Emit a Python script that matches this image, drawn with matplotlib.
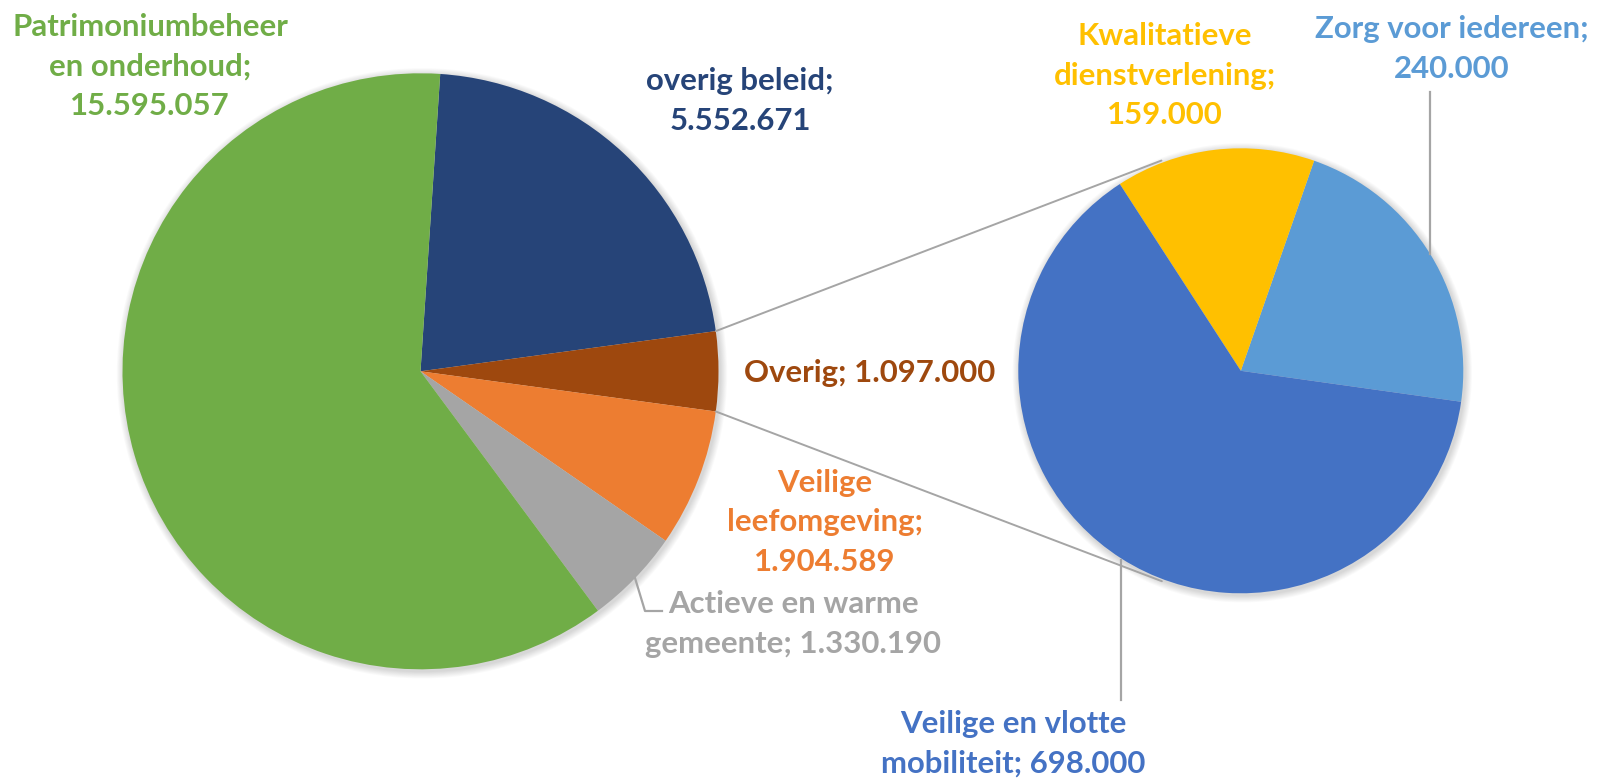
import matplotlib
matplotlib.use("Agg")
import matplotlib.pyplot as plt
import numpy as np
from matplotlib.patches import Circle

# ---------------- data ----------------
main_labels = ["overig beleid", "Overig", "Veilige leefomgeving",
               "Actieve en warme gemeente", "Patrimoniumbeheer en onderhoud"]
main_values = [5552671, 1097000, 1904589, 1330190, 15595057]
main_colors = ["#264478", "#9E480E", "#ED7D31", "#A5A5A5", "#70AD47"]
main_breaks = [[2], [], [1, 2], [3], [1, 3]]   # word index after which a line break is placed

sub_labels = ["Zorg voor iedereen", "Kwalitatieve dienstverlening",
              "Veilige en vlotte mobiliteit"]
sub_values = [240000, 159000, 698000]
sub_colors = ["#5B9BD5", "#FFC000", "#4472C4"]
sub_breaks = [[3], [1, 2], [3]]

FONT = ["Lato", "DejaVu Sans"]
W, H = 1609, 781


def fmt(v):
    return f"{v:,}".replace(",", ".")


def make_label(name, value, breaks):
    words = f"{name}; {fmt(value)}".split(" ")
    out = ""
    for i, w in enumerate(words):
        if i > 0:
            out += "\n" if i in breaks else " "
        out += w
    return out


fig = plt.figure(figsize=(W / 100, H / 100), dpi=100)
ax = fig.add_axes([0, 0, 1, 1])
ax.set_xlim(0, W)
ax.set_ylim(0, H)
ax.axis("off")


def Y(y_img):
    return H - y_img


# font size fitted so that the reference word width matches
renderer = fig.canvas.get_renderer()
tt = ax.text(0, 0, "Patrimoniumbeheer", fontsize=20, fontweight="bold", family=FONT)
wpx = tt.get_window_extent(renderer).width
FS = 20 * 276 / wpx
tt.remove()
LINE = 39.5

# geometry
c1 = (420.5, Y(371.3)); r1 = 298.0
c2 = (1240.8, Y(370.8)); r2 = 222.5

# soft shadows
for c, r in [(c1, r1), (c2, r2)]:
    for k in range(1, 9):
        ax.add_patch(Circle((c[0] + 1.5, c[1] - 2.0), r + k * 0.9, color="black",
                            alpha=0.018, lw=0, zorder=1))

tot = sum(main_values)
start1 = 360 * (main_values[1] / tot / 2 + main_values[0] / tot)
ax.pie(main_values, colors=main_colors, center=c1, radius=r1, startangle=start1,
       counterclock=False, wedgeprops=dict(linewidth=0), frame=True)
ax.pie(sub_values, colors=sub_colors, center=c2, radius=r2, startangle=-8.0,
       counterclock=True, wedgeprops=dict(linewidth=0), frame=True)
ax.set_xlim(0, W)
ax.set_ylim(0, H)
ax.axis("off")

# connector lines (from edges of "Overig" slice, tangent to secondary pie)
half = np.deg2rad(360 * main_values[1] / tot / 2)
for sgn in (1, -1):
    p = np.array([c1[0] + r1 * np.cos(sgn * half), c1[1] + r1 * np.sin(sgn * half)])
    d = p - np.array(c2)
    dist = np.hypot(*d)
    th = np.arctan2(d[1], d[0]) - sgn * np.arccos(r2 / dist)
    q = np.array([c2[0] + r2 * 1.01 * np.cos(th), c2[1] + r2 * 1.01 * np.sin(th)])
    ax.plot([p[0], q[0]], [p[1], q[1]], color="#A5A5A5", lw=1.4, zorder=3,
            solid_capstyle="round")

# leader lines
lcol = "#A5A5A5"
ax.plot([635, 645, 662], [Y(578), Y(611), Y(611)], color=lcol, lw=1.6, zorder=3)
ax.plot([1121, 1121], [Y(560), Y(700)], color=lcol, lw=1.6, zorder=3)
ax.plot([1430, 1430], [Y(92), Y(254)], color=lcol, lw=1.6, zorder=3)

# labels: (center x, first baseline y) in image pixels
main_pos = [(740, 90), (870, 382), (825, 492), (793, 613), (150, 36)]
sub_pos = [(1452, 38), (1165, 45), (1013, 733)]


def put(text, pos, color):
    for i, line in enumerate(text.split("\n")):
        ax.text(pos[0], Y(pos[1] + i * LINE), line, ha="center", va="baseline",
                fontsize=FS, fontweight="bold", family=FONT, color=color, zorder=5)


for n, v, b, p, col in zip(main_labels, main_values, main_breaks, main_pos, main_colors):
    put(make_label(n, v, b), p, col)
for n, v, b, p, col in zip(sub_labels, sub_values, sub_breaks, sub_pos, sub_colors):
    put(make_label(n, v, b), p, col)

fig.savefig("out.png", dpi=100, facecolor="white")
